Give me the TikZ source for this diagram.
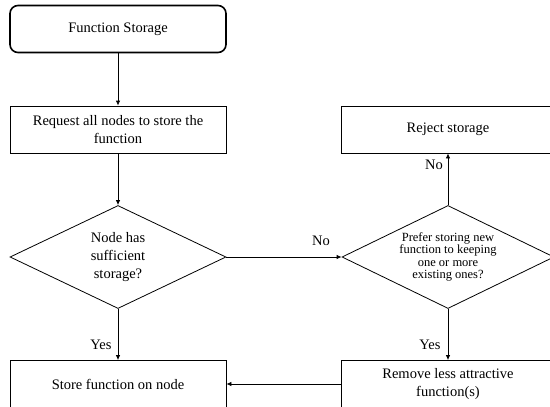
\documentclass[tikz,border=0pt]{standalone}
\usepackage{fontspec}
\setmainfont{Liberation Serif}
\usetikzlibrary{shapes.geometric,arrows.meta}

\begin{document}
\begin{tikzpicture}[x=1pt, y=-1pt,
    txt/.style={font=\fontsize{14.5}{18}\selectfont},
    box/.style={draw, line width=0.8pt, minimum width=216pt, minimum height=47pt, inner sep=0pt, align=center, txt},
    startbox/.style={box, rounded corners=8pt, line width=1.6pt},
    decision/.style={draw, diamond, line width=0.8pt, shape aspect=2.1, minimum width=216pt, minimum height=103pt, inner sep=0pt, align=center},
    arrow/.style={line width=0.8pt, -{Latex[length=5pt,width=4.5pt]}}]
    \useasboundingbox (0,0) rectangle (550,407);

    % Draw left column
    \node[startbox] (start) at (118,29) {Function Storage};
    \node[box] (req) at (118,129.5) {Request all nodes to store the\\function};
    \node[decision, txt] (dec1) at (118,257) {Node has\\sufficient\\storage?};
    \node[box] (store) at (118,384) {Store function on node};

    % Draw right column
    \node[box, minimum width=214pt] (reject) at (448,129.5) {Reject storage};
    \node[decision, minimum width=212pt, font=\fontsize{12.5}{12.5}\selectfont] (dec2) at (448,257)
        {Prefer storing new\\function to keeping\\one or more\\existing ones?};
    \node[box, minimum width=214pt] (remove) at (448,384) {Remove less attractive\\function(s)};

    % Draw connectors
    \draw[arrow] (start) -- (req);
    \draw[arrow] (req) -- (dec1);
    \draw[arrow] (dec1) -- (dec2);
    \draw[arrow] (dec2) -- (reject);
    \draw[arrow] (dec1) -- (store);
    \draw[arrow] (dec2) -- (remove);
    \draw[arrow] (remove) -- (store);

    % Draw labels
    \node[txt] (nohas) at (321,241) {No};
    \node[txt] (noprefer) at (434,165) {No};
    \node[txt] (yeshas) at (101,345) {Yes};
    \node[txt] (yesprefer) at (430,345) {Yes};
\end{tikzpicture}
\end{document}
